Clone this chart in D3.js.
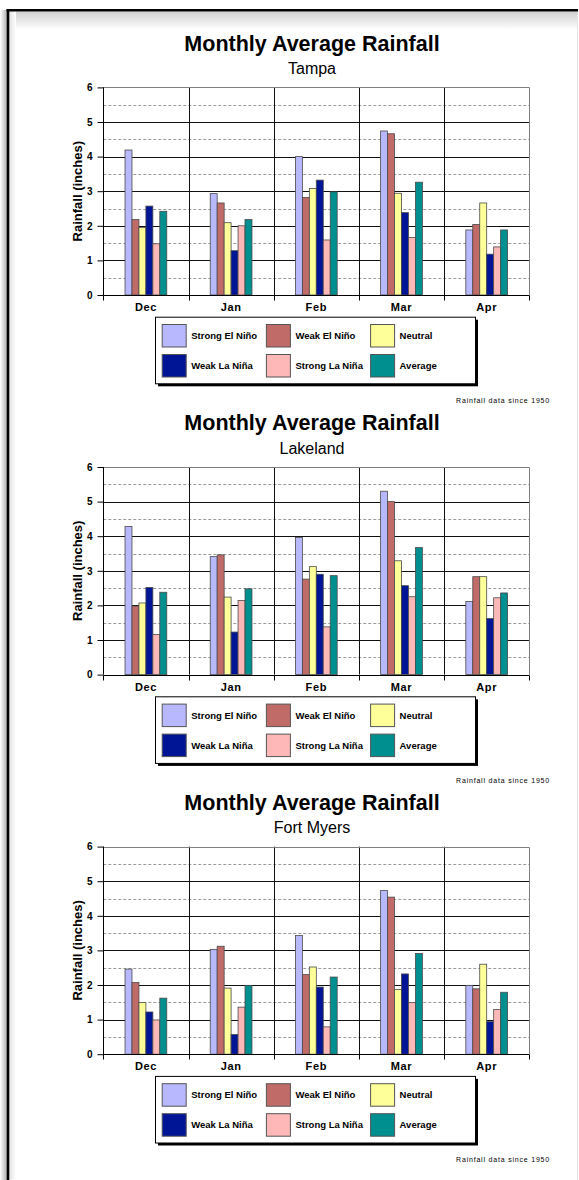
<!DOCTYPE html>
<html>
<head>
<meta charset="utf-8">
<script src="https://cdn.jsdelivr.net/npm/d3@7"></script>
<style>
  html, body { margin: 0; padding: 0; background: #fff; }
  svg { display: block; }
  text { font-family: "Liberation Sans", Arial, sans-serif; }
</style>
</head>
<body>
<svg id="page" width="579" height="1180"></svg>
<script>
// Monthly average rainfall (inches) by ENSO phase, since 1950
const months = ["Dec", "Jan", "Feb", "Mar", "Apr"];
const phases = ["Strong El Niño", "Weak El Niño", "Neutral", "Weak La Niña", "Strong La Niña", "Average"];
const phaseColors = ["#b8b8ff", "#c06b68", "#ffff99", "#001496", "#ffb8b8", "#008f8f"];
const yTicks = [0, 1, 2, 3, 4, 5, 6];

// one row per month, values in phase order
const tampa = [
  [4.19, 2.18, 1.95, 2.57, 1.48, 2.42],
  [2.93, 2.66, 2.09, 1.28, 2.00, 2.18],
  [4.00, 2.82, 3.08, 3.32, 1.59, 2.98],
  [4.74, 4.66, 2.94, 2.38, 1.66, 3.26],
  [1.88, 2.04, 2.66, 1.18, 1.39, 1.88]
];
const lakeland = [
  [4.28, 1.98, 2.07, 2.52, 1.16, 2.38],
  [3.41, 3.46, 2.24, 1.23, 2.14, 2.48],
  [3.96, 2.76, 3.12, 2.90, 1.38, 2.86],
  [5.30, 5.00, 3.29, 2.57, 2.25, 3.67],
  [2.11, 2.83, 2.83, 1.62, 2.22, 2.36]
];
const fortMyers = [
  [2.46, 2.07, 1.49, 1.22, 0.99, 1.62],
  [3.03, 3.12, 1.91, 0.57, 1.36, 1.99],
  [3.43, 2.30, 2.52, 1.94, 0.79, 2.23],
  [4.73, 4.54, 1.87, 2.32, 1.49, 2.91],
  [1.99, 1.89, 2.60, 0.94, 1.29, 1.79]
];
const cities = ["Tampa", "Lakeland", "Fort Myers"];
const cityData = [tampa, lakeland, fortMyers];

const svg = d3.select("#page");
const defs = svg.append("defs");

// page frame with soft shading
const g1 = defs.append("linearGradient").attr("id", "shadeTop").attr("x1", 0).attr("y1", 0).attr("x2", 0).attr("y2", 1);
g1.append("stop").attr("offset", 0).attr("stop-color", "#cfcfcf");
g1.append("stop").attr("offset", 1).attr("stop-color", "#ffffff");
const g2 = defs.append("linearGradient").attr("id", "shadeLeftOut").attr("x1", 0).attr("y1", 0).attr("x2", 1).attr("y2", 0);
g2.append("stop").attr("offset", 0).attr("stop-color", "#ffffff");
g2.append("stop").attr("offset", 1).attr("stop-color", "#b0b0b0");
const g3 = defs.append("linearGradient").attr("id", "shadeLeftIn").attr("x1", 0).attr("y1", 0).attr("x2", 1).attr("y2", 0);
g3.append("stop").attr("offset", 0).attr("stop-color", "#e2e2e2");
g3.append("stop").attr("offset", 1).attr("stop-color", "#ffffff");

svg.append("rect").attr("x", 0).attr("y", 10).attr("width", 7).attr("height", 1170).attr("fill", "url(#shadeLeftOut)");
svg.append("rect").attr("x", 9).attr("y", 11.5).attr("width", 568).attr("height", 18).attr("fill", "url(#shadeTop)");
svg.append("rect").attr("x", 9).attr("y", 11.5).attr("width", 7).attr("height", 1168).attr("fill", "url(#shadeLeftIn)");
svg.append("line").attr("x1", 577.5).attr("x2", 577.5).attr("y1", 11).attr("y2", 1180).attr("stroke", "#e4e4e4").attr("stroke-width", 1);
svg.append("line").attr("x1", 6.5).attr("x2", 578).attr("y1", 10.2).attr("y2", 10.2).attr("stroke", "#000").attr("stroke-width", 2.6);
svg.append("line").attr("x1", 8).attr("x2", 8).attr("y1", 9).attr("y2", 1180).attr("stroke", "#000").attr("stroke-width", 2.6);

const left = 103.3, right = 529.3;
const x0 = d3.scaleBand().domain(months).range([left, right]).padding(0);
const cw = x0.bandwidth();
const x1 = d3.scaleBand().domain(phases).range([cw * 0.255, cw * 0.745]).padding(0);

function drawChart(k) {
  const dy = k * 379.6;
  const top = 87.4 + dy, bottom = 295 + dy;
  const y = d3.scaleLinear().domain([0, 6]).range([bottom, top]);
  const g = svg.append("g");
  const data = cityData[k];

  g.append("text").attr("x", 312).attr("y", 50.5 + dy).attr("text-anchor", "middle")
    .attr("font-size", 21.5).attr("font-weight", "bold").attr("fill", "#000").text("Monthly Average Rainfall");
  g.append("text").attr("x", 312).attr("y", 74 + dy).attr("text-anchor", "middle")
    .attr("font-size", 16).attr("fill", "#000").text(cities[k]);

  // minor (half-inch) dashed gridlines
  const minor = d3.range(0.5, 6, 1);
  g.selectAll(".minor").data(minor).join("line")
    .attr("x1", left).attr("x2", right)
    .attr("y1", d => Math.round(y(d)) + 0.5).attr("y2", d => Math.round(y(d)) + 0.5)
    .attr("stroke", "#9a9a9a").attr("stroke-width", 1).attr("stroke-dasharray", "3,2");
  // major gridlines
  g.selectAll(".major").data(yTicks.filter(v => v > 0 && v < 6)).join("line")
    .attr("x1", left).attr("x2", right)
    .attr("y1", d => Math.round(y(d)) + 0.5).attr("y2", d => Math.round(y(d)) + 0.5)
    .attr("stroke", "#111").attr("stroke-width", 1);
  // category gridlines
  g.selectAll(".vgrid").data(months.slice(1)).join("line")
    .attr("x1", d => Math.round(x0(d)) + 0.5).attr("x2", d => Math.round(x0(d)) + 0.5)
    .attr("y1", top).attr("y2", bottom)
    .attr("stroke", "#111").attr("stroke-width", 1);
  // plot area border (top, right)
  g.append("path")
    .attr("d", `M${Math.round(left)},${Math.round(top) + 0.5}H${Math.round(right) + 0.5}V${Math.round(bottom)}`)
    .attr("fill", "none").attr("stroke", "#808080").attr("stroke-width", 1);

  // bars
  const groups = g.selectAll(".grp").data(data).join("g")
    .attr("transform", (d, i) => `translate(${x0(months[i])},0)`);
  groups.selectAll("rect").data(d => d.map((v, j) => ({ v, j }))).join("rect")
    .attr("x", d => x1(phases[d.j]))
    .attr("y", d => y(d.v))
    .attr("width", x1.bandwidth())
    .attr("height", d => bottom - y(d.v))
    .attr("fill", d => phaseColors[d.j])
    .attr("stroke", "#4a4a4a").attr("stroke-width", 0.8);

  // y axis
  const yAxis = d3.axisLeft(y).tickValues(yTicks).tickSize(6).tickPadding(5).tickFormat(d3.format("d"));
  const ya = g.append("g").attr("transform", `translate(${Math.round(left) + 0.5},0)`).call(yAxis);
  ya.select(".domain").attr("stroke", "#000").attr("d", `M0,${top}V${bottom}`);
  ya.selectAll(".tick line").attr("stroke", "#000");
  ya.selectAll(".tick text").attr("font-size", 10).attr("font-weight", "bold").attr("fill", "#000")
    .style("font-family", '"Liberation Sans", Arial, sans-serif');

  // x axis with ticks on category boundaries
  const xa = g.append("g").attr("transform", `translate(0,${Math.round(bottom) + 0.5})`);
  xa.append("line").attr("x1", left).attr("x2", right).attr("stroke", "#000");
  const bounds = months.map(m => x0(m)).concat([right]);
  xa.selectAll(".xt").data(bounds).join("line")
    .attr("x1", d => Math.round(d) + 0.5).attr("x2", d => Math.round(d) + 0.5)
    .attr("y1", 0).attr("y2", 5).attr("stroke", "#000");
  xa.selectAll(".xl").data(months).join("text")
    .attr("x", d => x0(d) + cw / 2).attr("y", 15)
    .attr("text-anchor", "middle").attr("font-size", 11).attr("font-weight", "bold")
    .attr("letter-spacing", 0.6).attr("fill", "#000").text(d => d);

  g.append("text")
    .attr("transform", `translate(81.5,${(top + bottom) / 2}) rotate(-90)`)
    .attr("text-anchor", "middle").attr("font-size", 13).attr("font-weight", "bold")
    .attr("fill", "#000").text("Rainfall (inches)");

  // legend
  const lx = 155, ly = 316.7 + dy, lw = 320, lh = 66.6;
  g.append("rect").attr("x", lx + 3).attr("y", ly + 3).attr("width", lw).attr("height", lh).attr("fill", "#000");
  g.append("rect").attr("x", lx + 0.5).attr("y", ly + 0.5).attr("width", lw).attr("height", lh)
    .attr("fill", "#fff").attr("stroke", "#000").attr("stroke-width", 1);
  const items = g.selectAll(".leg").data(phases).join("g")
    .attr("transform", (d, i) => `translate(${lx + 6.7 + (i % 3) * 104.2},${ly + 7.3 + Math.floor(i / 3) * 30})`);
  items.append("rect").attr("x", 0.5).attr("y", 0.5).attr("width", 24).attr("height", 22.5)
    .attr("fill", (d, i) => phaseColors[i]).attr("stroke", "#555").attr("stroke-width", 1);
  items.append("text").attr("x", 29.5).attr("y", 15).attr("font-size", 9.5).attr("font-weight", "bold")
    .attr("fill", "#000").text(d => d);

  g.append("text").attr("x", 550).attr("y", 403 + dy).attr("text-anchor", "end")
    .attr("font-size", 7).attr("letter-spacing", 0.8).attr("fill", "#000").text("Rainfall data since 1950");
}

cities.forEach((c, k) => drawChart(k));
</script>
</body>
</html>
